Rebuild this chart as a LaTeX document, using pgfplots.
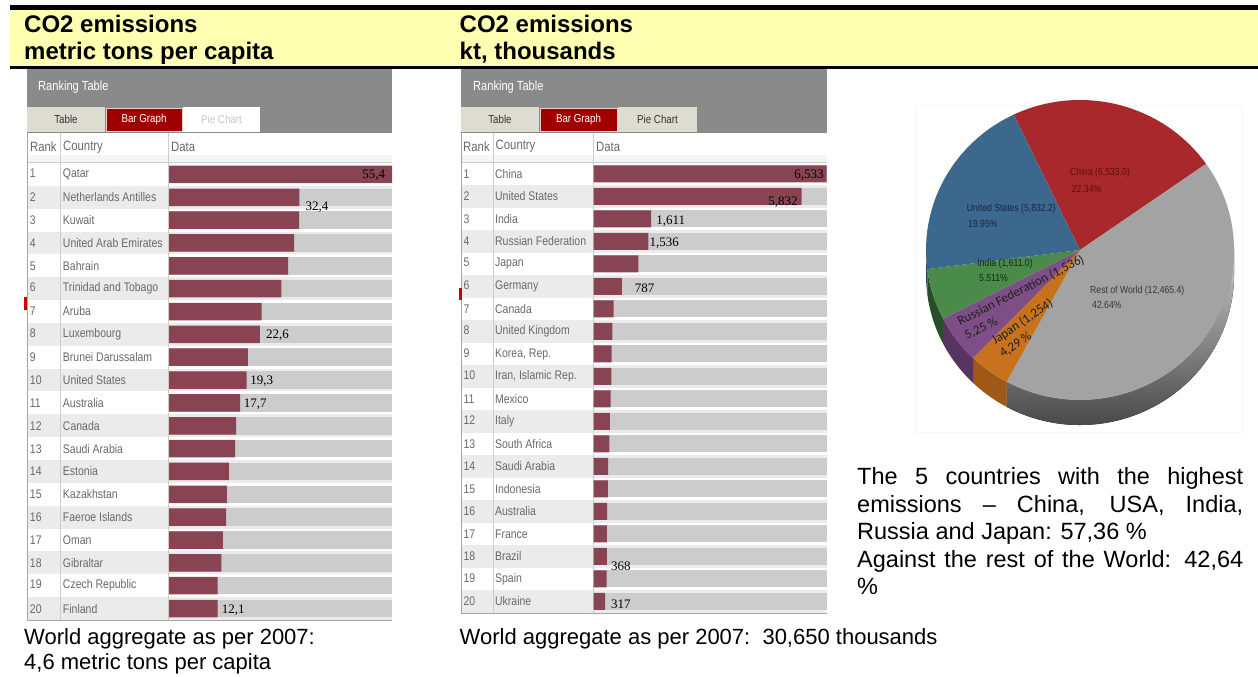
\documentclass[border=0pt]{standalone}
\usepackage{pgfplots}
\pgfplotsset{compat=1.18}
\usepackage{fontspec}
\setmainfont{Liberation Sans}
\newfontfamily\narrow[FakeStretch=0.84]{Liberation Sans}
\newfontfamily\calib{Carlito}
\newfontfamily\numfont{Liberation Serif}

\definecolor{hdryellow}{RGB}{255,255,178}
\definecolor{rtgrey}{RGB}{138,138,138}
\definecolor{tabbeige}{RGB}{220,221,208}
\definecolor{tabred}{RGB}{160,0,0}
\definecolor{rowgrey}{RGB}{235,235,235}
\definecolor{track}{RGB}{204,204,204}
\definecolor{barmaroon}{RGB}{136,68,82}
\definecolor{txtgrey}{RGB}{105,105,105}
\definecolor{sepgrey}{RGB}{205,205,205}
\definecolor{pchina}{RGB}{168,40,43}
\definecolor{pus}{RGB}{60,104,142}
\definecolor{pindia}{RGB}{74,138,74}
\definecolor{prussia}{RGB}{126,78,134}
\definecolor{pjapan}{RGB}{200,114,30}
\definecolor{prest}{RGB}{163,163,163}
\definecolor{schina}{RGB}{110,25,28}
\definecolor{sus}{RGB}{38,66,92}
\definecolor{sindia}{RGB}{40,78,40}
\definecolor{srussia}{RGB}{88,52,96}
\definecolor{sjapan}{RGB}{160,88,22}
\definecolor{lchina}{RGB}{95,15,15}
\definecolor{lus}{RGB}{22,40,64}
\definecolor{lindia}{RGB}{18,45,18}
\definecolor{lrest}{RGB}{55,55,55}

\newcommand\rkL[1]{\makebox[33pt][l]{#1}}
\newcommand\rkM[1]{\makebox[31.5pt][l]{#1}}
\newcommand\vl[3]{\raisebox{\dimexpr#2-4.4pt\relax}[0pt][0pt]{\hspace*{#1}#3}}

% pie data (kt, thousands)
\pgfmathsetmacro\vChina{0.001*6533.0}
\pgfmathsetmacro\vRest{0.001*12465.4}
\pgfmathsetmacro\vJapan{0.001*1254}
\pgfmathsetmacro\vRussia{0.001*1536}
\pgfmathsetmacro\vIndia{0.001*1611.0}
\pgfmathsetmacro\vUS{0.001*5832.2}
\pgfmathsetmacro\tot{\vChina+\vRest+\vJapan+\vRussia+\vIndia+\vUS}
\pgfmathsetmacro\aA{115.5}
\pgfmathsetmacro\aB{\aA-360*\vChina/\tot}
\pgfmathsetmacro\aC{\aB-360*\vRest/\tot}
\pgfmathsetmacro\aD{\aC-360*\vJapan/\tot}
\pgfmathsetmacro\aE{\aD-360*\vRussia/\tot}
\pgfmathsetmacro\aF{\aE-360*\vIndia/\tot}
\pgfmathsetmacro\aG{\aF-360*\vUS/\tot}
\newcommand\slice[3]{\fill[#3] (axis cs:0,0) -- (axis cs:{154*cos(#1)},{150*sin(#1)}) arc[start angle=#1, end angle=#2, x radius=154pt, y radius=150pt] -- cycle;}
\newcommand\side[3]{\fill[#3] (axis cs:{154*cos(#1)},{150*sin(#1)}) arc[start angle=#1, end angle=#2, x radius=154pt, y radius=150pt] -- ++(0pt,-25pt) arc[start angle=#2, end angle=#1, x radius=154pt, y radius=150pt] -- cycle;}

\begin{document}
\begin{tikzpicture}
\path[use as bounding box] (0,0) rectangle (1258pt,677pt);
\begin{scope}[shift={(0pt,677pt)}, x=1pt, y=-1pt]
% header band
\fill[black] (10,5.5) rectangle (1258,10.5);
\fill[hdryellow] (10,10.5) rectangle (1258,66.5);
\fill[black] (10,66.5) rectangle (1258,69);
\begin{scope}[every node/.style={anchor=base west, inner sep=0pt, font=\bfseries\fontsize{24}{26}\selectfont}]
\node at (24,33) {CO2 emissions};
\node at (24,60) {metric tons per capita};
\node at (459.5,33) {CO2 emissions};
\node at (459.5,60) {kt, thousands};
\end{scope}
% faint pie frame
\draw[gray!6] (915,105) rectangle (1242,432);

% ---------- left table ----------
\fill[rtgrey] (27,69) rectangle (392,133);
\node[anchor=west, inner sep=0pt, text=white, font=\narrow\fontsize{13.2}{15}\selectfont] at (38,87) {Ranking Table};
\fill[tabbeige] (27,107) rectangle (105,132);
\fill[tabred] (106,108) rectangle (181.7,131.5);
\draw[white!80!tabred] (106,108) rectangle (181.7,131.5);
\fill[white] (183,107) rectangle (260,132);
\begin{scope}[every node/.style={inner sep=0pt, font=\narrow\fontsize{11.6}{13}\selectfont}]
\node[text=black!80] at (66,119.5) {Table};
\node[text=white] at (144,119.5) {Bar Graph};
\node[text=black!22] at (221.5,119.5) {Pie Chart};
\end{scope}
\fill[white] (27,133) rectangle (392,162.5);
\fill[black!4] (27,155) rectangle (392,162.5);
\foreach \i in {1,...,20}{
  \pgfmathsetmacro\t{163+22.85*(\i-1)}
  \ifodd\i\else\fill[rowgrey] (27,\t) rectangle (392,\t+22.85);\fi
  \fill[track] (169,\t+2.68) rectangle (392,\t+20.18);
}
\draw[sepgrey] (27,162.5) -- (392,162.5);
\draw[sepgrey] (60,133) -- (60,620) (168.5,133) -- (168.5,620);
\draw[black!35] (27.3,133) -- (27.3,620.5) -- (392,620.5);
\begin{scope}[every node/.style={anchor=west, inner sep=0pt, text=txtgrey, font=\narrow\fontsize{13.5}{15}\selectfont}]
\node at (30,147) {Rank};
\node at (63,147) {Country};
\node at (171,147) {Data};
\end{scope}
\fill[red!80!black] (24,297) rectangle (26.5,310);

% ---------- middle table ----------
\fill[rtgrey] (461,69) rectangle (827,133);
\node[anchor=west, inner sep=0pt, text=white, font=\narrow\fontsize{13.2}{15}\selectfont] at (473,87) {Ranking Table};
\fill[tabbeige] (461,107) rectangle (539,132);
\fill[tabred] (540,108) rectangle (617,131.5);
\draw[white!80!tabred] (540,108) rectangle (617,131.5);
\fill[tabbeige] (618,107) rectangle (697,132);
\begin{scope}[every node/.style={inner sep=0pt, font=\narrow\fontsize{11.6}{13}\selectfont}]
\node[text=black!80] at (500,119.5) {Table};
\node[text=white] at (578.5,119.5) {Bar Graph};
\node[text=black!80] at (657.5,119.5) {Pie Chart};
\end{scope}
\fill[white] (461,133) rectangle (827,162.2);
\fill[black!4] (461,155) rectangle (827,162.2);
\foreach \i in {1,...,20}{
  \pgfmathsetmacro\t{162.7+22.5*(\i-1)}
  \ifodd\i\else\fill[rowgrey] (461,\t) rectangle (827,\t+22.5);\fi
  \fill[track] (593.7,\t+2.75) rectangle (826.7,\t+19.75);
}
\draw[sepgrey] (461,162.2) -- (827,162.2);
\draw[sepgrey] (492.7,133) -- (492.7,613) (593,133) -- (593,613);
\draw[black!35] (461.3,133) -- (461.3,613.2) -- (827,613.2);
\begin{scope}[every node/.style={anchor=west, inner sep=0pt, text=txtgrey, font=\narrow\fontsize{13.5}{15}\selectfont}]
\node at (463,146.5) {Rank};
\node at (495.5,146.5) {Country};
\node at (596,146.5) {Data};
\end{scope}
\fill[red!80!black] (459.3,288) rectangle (461.5,300);

% ---------- texts ----------
\begin{scope}[every node/.style={anchor=base west, inner sep=0pt, font=\fontsize{22}{26}\selectfont}]
\node at (24,645) {World aggregate as per 2007:};
\node at (24,670) {4,6 metric tons per capita};
\node at (459.5,645) {World aggregate as per 2007:\ \ 30,650 thousands};
\end{scope}
\node[anchor=base west, inner sep=0pt] at (857,485) {\parbox[t]{386pt}{\fontsize{23.5}{27.5}\selectfont\hyphenpenalty=10000
The 5 countries with the highest\linebreak emissions – China, USA, India,\linebreak Russia and Japan: 57,36~\%\par
Against the rest of the World: 42,64\linebreak \%}};
\end{scope}

% ---------- left bar chart ----------
\begin{axis}[
  at={(169pt,514pt)}, anchor=north west,
  scale only axis, width=223pt, height=457pt,
  xbar, bar width=17.5pt,
  xmin=0, xmax=55.4, ymin=0.5, ymax=20.5, y dir=reverse,
  enlargelimits=false, clip=false,
  axis line style={draw=none}, tick style={draw=none}, xtick=\empty,
  ytick={1,...,20},
  yticklabels={\rkL{1}Qatar,\rkL{2}Netherlands Antilles,\rkL{3}Kuwait,\rkL{4}United Arab Emirates,\rkL{5}Bahrain,\rkL{6}Trinidad and Tobago,\rkL{7}Aruba,\rkL{8}Luxembourg,\rkL{9}Brunei Darussalam,\rkL{10}United States,\rkL{11}Australia,\rkL{12}Canada,\rkL{13}Saudi Arabia,\rkL{14}Estonia,\rkL{15}Kazakhstan,\rkL{16}Faeroe Islands,\rkL{17}Oman,\rkL{18}Gibraltar,\rkL{19}Czech Republic,\rkL{20}Finland},
  yticklabel style={anchor=west, inner sep=0pt, xshift=-135pt, text=txtgrey, font=\narrow\fontsize{12.5}{14}\selectfont},
  nodes near coords, point meta=explicit symbolic,
  every node near coord/.append style={anchor=west, inner sep=0pt, text=black, font=\numfont\fontsize{13}{14}\selectfont},
]
\addplot[fill=barmaroon, draw=none] coordinates {
 (55.4,1) [\vl{-38pt}{0pt}{55,4}]
 (32.4,2) [\vl{6pt}{-9pt}{32,4}]
 (32.3,3)
 (31.1,4)
 (29.6,5)
 (27.9,6)
 (23.0,7)
 (22.6,8) [\vl{6pt}{0pt}{22,6}]
 (19.6,9)
 (19.3,10) [\vl{3.5pt}{0pt}{19,3}]
 (17.7,11) [\vl{3.5pt}{0pt}{17,7}]
 (16.7,12)
 (16.4,13)
 (14.9,14)
 (14.4,15)
 (14.2,16)
 (13.4,17)
 (13.0,18)
 (12.1,19)
 (12.1,20) [\vl{4pt}{-1pt}{12,1}]
};
\end{axis}

% ---------- middle bar chart ----------
\begin{axis}[
  at={(593.7pt,514.3pt)}, anchor=north west,
  scale only axis, width=233pt, height=450pt,
  xbar, bar width=17pt,
  xmin=0, xmax=6533, ymin=0.5, ymax=20.5, y dir=reverse,
  enlargelimits=false, clip=false,
  axis line style={draw=none}, tick style={draw=none}, xtick=\empty,
  ytick={1,...,20},
  yticklabels={\rkM{1}China,\rkM{2}United States,\rkM{3}India,\rkM{4}Russian Federation,\rkM{5}Japan,\rkM{6}Germany,\rkM{7}Canada,\rkM{8}United Kingdom,{\rkM{9}Korea, Rep.},{\rkM{10}Iran, Islamic Rep.},\rkM{11}Mexico,\rkM{12}Italy,\rkM{13}South Africa,\rkM{14}Saudi Arabia,\rkM{15}Indonesia,\rkM{16}Australia,\rkM{17}France,\rkM{18}Brazil,\rkM{19}Spain,\rkM{20}Ukraine},
  yticklabel style={anchor=west, inner sep=0pt, xshift=-126pt, text=txtgrey, font=\narrow\fontsize{12.5}{14}\selectfont},
  nodes near coords, point meta=explicit symbolic,
  every node near coord/.append style={anchor=west, inner sep=0pt, text=black, font=\numfont\fontsize{13}{14}\selectfont},
]
\addplot[fill=barmaroon, draw=none] coordinates {
 (6533,1) [\vl{-37pt}{0pt}{6,533}]
 (5832,2) [\vl{-39pt}{-5pt}{5,832}]
 (1611,3) [\vl{5pt}{-1.5pt}{1,611}]
 (1536,4) [\vl{1pt}{-1pt}{1,536}]
 (1254,5)
 (787,6) [\vl{13pt}{-1.5pt}{787}]
 (557,7)
 (523,8)
 (503,9)
 (495,10)
 (475,11)
 (456,12)
 (436,13)
 (402,14)
 (397,15)
 (374,16)
 (371,17)
 (368,18) [\vl{4pt}{-10pt}{368}]
 (359,19)
 (317,20) [\vl{6pt}{-3pt}{317}]
};
\end{axis}

% ---------- pie ----------
\begin{axis}[
  at={(1080pt,427pt)}, anchor=origin, x=1pt, y=1pt,
  hide axis, xmin=-160, xmax=160, ymin=-180, ymax=155, clip=false,
]
% visible sides (lower half)
\side{0}{\aC}{left color={rgb,255:red,200;green,200;blue,200}, right color={rgb,255:red,58;green,58;blue,58}, shading angle=0}
\side{\aC}{\aD}{sjapan}
\side{\aD}{\aE}{srussia}
\side{\aE}{\aF}{sindia}
\side{\aF}{-180}{sus}
% top face
\slice{\aA}{\aB}{pchina}
\slice{\aB}{\aC}{prest}
\slice{\aC}{\aD}{pjapan}
\slice{\aD}{\aE}{prussia}
\slice{\aE}{\aF}{pindia}
\slice{\aF}{\aG}{pus}
\end{axis}

% pie labels
\begin{scope}[shift={(0pt,677pt)}, x=1pt, y=-1pt]
\begin{scope}[every node/.style={anchor=west, inner sep=0pt, font=\narrow\fontsize{10.3}{11}\selectfont}]
\node[text=lchina] at (1070,173.3) {China (6,533.0)};
\node[text=lchina] at (1071.7,189.3) {22.34\%};
\node[text=lus] at (966.7,209.3) {United States (5,832.2)};
\node[text=lus] at (968,224) {19.95\%};
\node[text=lindia] at (977.3,264) {India (1,611.0)};
\node[text=lindia] at (979,278.3) {5.511\%};
\node[text=lrest] at (1090,290.7) {Rest of World (12,465.4)};
\node[text=lrest] at (1092,304.5) {42.64\%};
\end{scope}
\begin{scope}[every node/.style={anchor=base west, inner sep=0pt, font=\calib\fontsize{13}{14}\selectfont, text=black!88}]
\node[rotate=27] at (960,326) {Russian Federation (1,536)};
\node[rotate=27] at (967,340) {5,25 \%};
\node[rotate=34] at (995,345) {Japan (1,254)};
\node[rotate=34] at (1003,358) {4,29 \%};
\end{scope}
\end{scope}
\end{tikzpicture}
\end{document}
